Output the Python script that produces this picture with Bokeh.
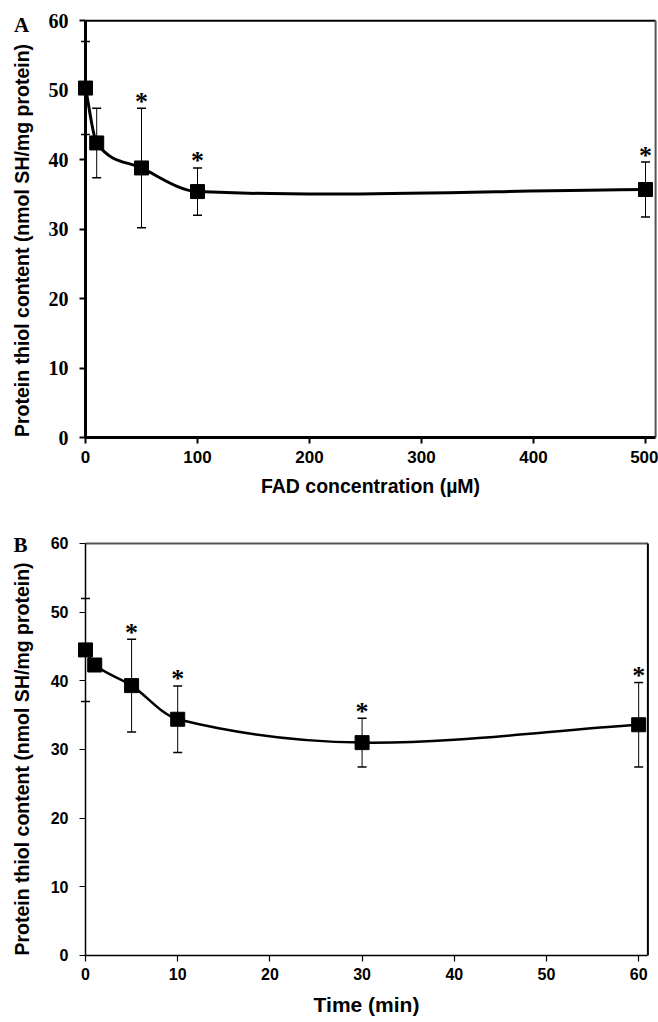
import numpy as np
from bokeh.plotting import figure
from bokeh.layouts import column
from bokeh.models import (Range1d, FixedTicker, ColumnDataSource, Whisker, TeeHead, Label,
                          LinearAxis)
from bokeh.core.properties import value
from bokeh.embed import file_html
from bokeh.resources import INLINE

# ---------------- data ----------------
# Panel A: FAD concentration (uM)
fad_conc = [0, 10, 50, 100, 500]
fad_thiol = [50.3, 42.4, 38.8, 35.4, 35.7]
fad_err = [6.7, 5.0, 8.6, 3.4, 3.95]
fad_sig = [False, False, True, True, True]

# Panel B: time (min)
time_min = [0, 1, 5, 10, 30, 60]
time_thiol = [44.5, 42.3, 39.3, 34.4, 31.0, 33.6]
time_err = [7.5, 0.0, 6.75, 4.85, 3.55, 6.15]
time_sig = [False, False, True, True, True, True]

y_ticks = [0, 10, 20, 30, 40, 50, 60]
fad_ticks = [0, 100, 200, 300, 400, 500]
time_ticks = [0, 10, 20, 30, 40, 50, 60]

y_label = "Protein thiol content (nmol SH/mg protein)"


def bezier_source(xs, ys):
    """Smooth (Excel-like) curve: cubic Hermite segments expressed as Bezier control points."""
    x = np.asarray(xs, float)
    y = np.asarray(ys, float)
    n = len(x)
    m = np.zeros(n)
    m[0] = (y[1] - y[0]) / (x[1] - x[0])
    m[-1] = (y[-1] - y[-2]) / (x[-1] - x[-2])
    for i in range(1, n - 1):
        m[i] = (y[i + 1] - y[i - 1]) / (x[i + 1] - x[i - 1])
    dx = x[1:] - x[:-1]
    return ColumnDataSource(dict(
        x0=x[:-1], y0=y[:-1], x1=x[1:], y1=y[1:],
        cx0=x[:-1] + dx / 3, cy0=y[:-1] + m[:-1] * dx / 3,
        cx1=x[1:] - dx / 3, cy1=y[1:] - m[1:] * dx / 3,
    ))


def style_axis(ax, ticks, font, size, axis_w):
    ax.ticker = FixedTicker(ticks=ticks)
    ax.minor_tick_line_color = None
    ax.major_tick_out = 6
    ax.major_tick_in = 0
    ax.major_tick_line_width = 2 if axis_w > 2 else 1.2
    ax.axis_line_width = axis_w
    ax.axis_line_color = "black"
    ax.major_label_text_font = font
    ax.major_label_text_font_style = "bold"
    ax.major_label_text_font_size = size
    ax.major_label_text_color = "black"
    ax.axis_label_text_font = "Liberation Sans"
    ax.axis_label_text_font_style = "bold"
    ax.axis_label_text_color = "black"


def make_panel(xs, ys, err, sig, xticks, xr, yr, xmax, xlabel, letter, letter_xy, *,
               height, ytick_font, xtick_font, ytick_size, xtick_size, xlab_size,
               axis_w, curve_w, top_col, right_col, ylab_standoff, ylab_low):
    p = figure(width=658, height=height, output_backend="svg", toolbar_location=None,
               x_range=Range1d(*xr), y_range=Range1d(*yr),
               min_border=0, min_border_left=0, min_border_right=0,
               min_border_top=0, min_border_bottom=0)
    p.xgrid.visible = False
    p.ygrid.visible = False
    p.outline_line_color = None
    p.background_fill_color = "white"
    p.border_fill_color = "white"

    # top and right border lines of the plot area
    p.segment(x0=[0], y0=[60], x1=[xmax], y1=[60], line_color=top_col, line_width=2)
    p.segment(x0=[xmax], y0=[0], x1=[xmax], y1=[60], line_color=right_col, line_width=2)

    p.xaxis.fixed_location = 0
    p.yaxis.fixed_location = 0
    p.xaxis.bounds = (0, xmax)
    p.yaxis.bounds = (0, 60)

    style_axis(p.xaxis[0], xticks, xtick_font, xtick_size, axis_w)
    style_axis(p.yaxis[0], y_ticks, ytick_font, ytick_size, axis_w)

    p.xaxis.axis_label = xlabel
    p.xaxis.axis_label_text_font_size = xlab_size
    p.xaxis.major_label_standoff = 7
    p.xaxis.axis_label_standoff = 9
    p.yaxis.major_label_standoff = 11

    # second (label-only) y axis carrying the axis title
    lab_ax = LinearAxis(fixed_location=0, bounds=(ylab_low, 60))
    style_axis(lab_ax, y_ticks, ytick_font, ytick_size, axis_w)
    lab_ax.axis_line_color = None
    lab_ax.major_tick_line_color = None
    lab_ax.major_label_text_color = None
    lab_ax.major_label_standoff = 11
    lab_ax.axis_label = y_label
    lab_ax.axis_label_text_font_size = "19.5px"
    lab_ax.axis_label_standoff = ylab_standoff
    p.add_layout(lab_ax, "left")

    # smooth curve
    src = bezier_source(xs, ys)
    p.bezier(x0="x0", y0="y0", x1="x1", y1="y1", cx0="cx0", cy0="cy0",
             cx1="cx1", cy1="cy1", source=src, line_color="black", line_width=curve_w)

    # error bars
    up = [v + e for v, e in zip(ys, err)]
    lo = [v - e for v, e in zip(ys, err)]
    esrc = ColumnDataSource(dict(x=xs, up=up, lo=lo))
    w = Whisker(base="x", upper="up", lower="lo", source=esrc, dimension="height",
                line_color="black", line_width=1,
                upper_head=TeeHead(size=9, line_color="black", line_width=1.5),
                lower_head=TeeHead(size=9, line_color="black", line_width=1.5))
    p.add_layout(w)

    # markers
    p.scatter(xs, ys, marker="square", size=14, fill_color="black", line_color="black")

    # significance stars
    sx = [x for x, s in zip(xs, sig) if s]
    sy = [u for u, s in zip(up, sig) if s]
    p.text(x=sx, y=sy, text=["*"] * len(sx), text_align="center",
           text_baseline="alphabetic", y_offset=-7,
           text_font=value("Liberation Serif"), text_font_style="bold",
           text_font_size="26px", text_color="black")

    # panel letter
    p.add_layout(Label(x=letter_xy[0], y=letter_xy[1], text=letter,
                       text_align="center", text_baseline="middle",
                       text_font="Liberation Serif", text_font_style="bold",
                       text_font_size="21px", text_color="black"))
    return p


pA = make_panel(fad_conc, fad_thiol, fad_err, fad_sig, fad_ticks,
                (-75.9, 511.6), (-9.78, 62.9), 509,
                "FAD concentration (\u00b5M)", "A", (-57.1, 59.4),
                height=505, ytick_font="Liberation Serif", xtick_font="Liberation Sans",
                ytick_size="20px", xtick_size="17px", xlab_size="19.5px",
                axis_w=3, curve_w=3,
                top_col="black", right_col="#555555", ylab_standoff=47, ylab_low=-3.3)

pB = make_panel(time_min, time_thiol, time_err, time_sig, time_ticks,
                (-9.22, 62.15), (-9.76, 65.53), 61,
                "Time (min)", "B", (-7.05, 59.85),
                height=517, ytick_font="Liberation Sans", xtick_font="Liberation Sans",
                ytick_size="16px", xtick_size="16px", xlab_size="21px",
                axis_w=1.5, curve_w=2.5,
                top_col="#555555", right_col="black", ylab_standoff=47, ylab_low=-2.8)

layout = column(pA, pB, spacing=0)
open("out.html", "w").write(file_html(layout, INLINE))
